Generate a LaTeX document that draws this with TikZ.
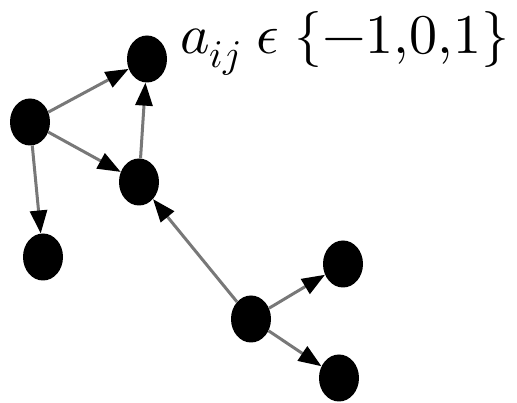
\documentclass[tikz,border=0pt]{standalone}
\usepackage{fontspec}
\usepackage{unicode-math}
\setmathfont{Latin Modern Math}
\usetikzlibrary{arrows.meta,shapes.geometric}
\begin{document}
\begin{tikzpicture}[x=1pt,y=-1pt,
  dot/.style={fill=black,ellipse,minimum width=40pt,minimum height=47pt,inner sep=0pt},
  link/.style={draw={rgb,255:red,120;green,120;blue,120},line width=3pt,
    -{Triangle[length=23pt,width=17pt,color=black]}}]
\useasboundingbox (0,0) rectangle (517,403);
\node[dot] (A) at (147,59) {};
\node[dot] (B) at (30,122) {};
\node[dot] (C) at (139,182) {};
\node[dot] (D) at (43,257) {};
\node[dot] (E) at (251,319) {};
\node[dot] (F) at (343,264) {};
\node[dot] (G) at (339,378) {};
\draw[link] (B) -- (A);
\draw[link] (B) -- (C);
\draw[link] (C) -- (A);
\draw[link] (B) -- (D);
\draw[link] (E) -- (C);
\draw[link] (E) -- (F);
\draw[link] (E) -- (G);
\node[anchor=base west,inner sep=0pt,font=\fontsize{56}{64}\selectfont] (lbl) at (180,54) {$a_{ij}\;\epsilon\;\{-1{,}0{,}1\}$};
\end{tikzpicture}
\end{document}
